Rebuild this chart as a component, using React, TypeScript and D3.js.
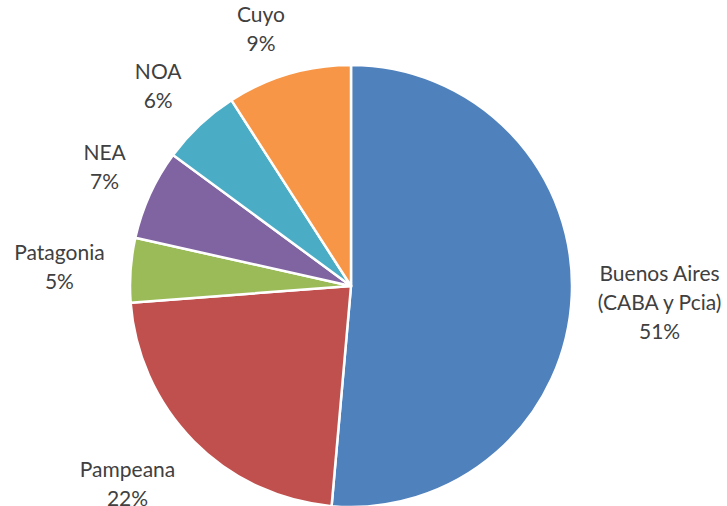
import React, { useEffect, useRef } from 'react';
import * as d3 from 'd3';

// regions, clockwise from 12 o'clock
const regions = ['Buenos Aires\n(CABA y Pcia)', 'Pampeana', 'Patagonia', 'NEA', 'NOA', 'Cuyo'];
const shares = [51.4, 22.4, 4.7, 6.6, 5.8, 9.1];
const colors = ['#4F81BD', '#C0504D', '#9BBB59', '#8064A2', '#4BACC6', '#F79646'];

const App = () => {
  const svgRef = useRef<SVGSVGElement>(null);

  useEffect(() => {
    const width = 727;
    const height = 506;
    const cx = 351;
    const cy = 286;
    const radius = 221;
    const gap = 26;
    const fontSize = 21;
    const lineHeight = 29;
    const capHeight = 15;

    const svg = d3.select(svgRef.current)
      .attr('width', width)
      .attr('height', height)
      .attr('viewBox', [0, 0, width, height].join(' '));
    svg.selectAll('*').remove();

    const total = d3.sum(shares);
    const pie = d3.pie<number>().sort(null).value(d => d);
    const arcs = pie(shares);
    const arc = d3.arc<d3.PieArcDatum<number>>().innerRadius(0).outerRadius(radius);

    const g = svg.append('g').attr('transform', `translate(${cx},${cy})`);

    g.selectAll('path')
      .data(arcs)
      .join('path')
      .attr('d', arc)
      .attr('fill', (d, i) => colors[i])
      .attr('stroke', '#fff')
      .attr('stroke-width', 2.5)
      .attr('stroke-linejoin', 'round');

    const pct = d3.format('.0%');
    const clamp = (v: number, k: number) => Math.max(-1, Math.min(1, v * k));

    // data labels, outside end: box pushed away from the pie along the slice's mid angle
    arcs.forEach((d, i) => {
      const lines = [...regions[i].split('\n'), pct(d.value / total)];
      const text = g.append('text')
        .attr('text-anchor', 'middle')
        .attr('fill', '#404040')
        .style('font-family', 'Lato, "Open Sans", sans-serif')
        .style('font-size', `${fontSize}px`);
      lines.forEach((l, k) => {
        text.append('tspan').attr('x', 0).attr('dy', k === 0 ? 0 : lineHeight).text(l);
      });
      const w = (text.node() as SVGTextElement).getBBox().width;
      const h = capHeight + lineHeight * (lines.length - 1);
      const a = (d.startAngle + d.endAngle) / 2;
      const ax = Math.sin(a) * (radius + gap);
      const ay = -Math.cos(a) * (radius + gap);
      const bx = ax + (w / 2) * clamp(Math.sin(a), 3);
      const by = ay + (h / 2) * clamp(-Math.cos(a), 2);
      text.attr('transform', `translate(${bx},${by - h / 2 + capHeight + 2})`);
    });
  }, []);

  return (
    <svg ref={svgRef} style={{ position: 'absolute', left: 0, top: 0, background: '#fff' }} />
  );
};

export default App;
